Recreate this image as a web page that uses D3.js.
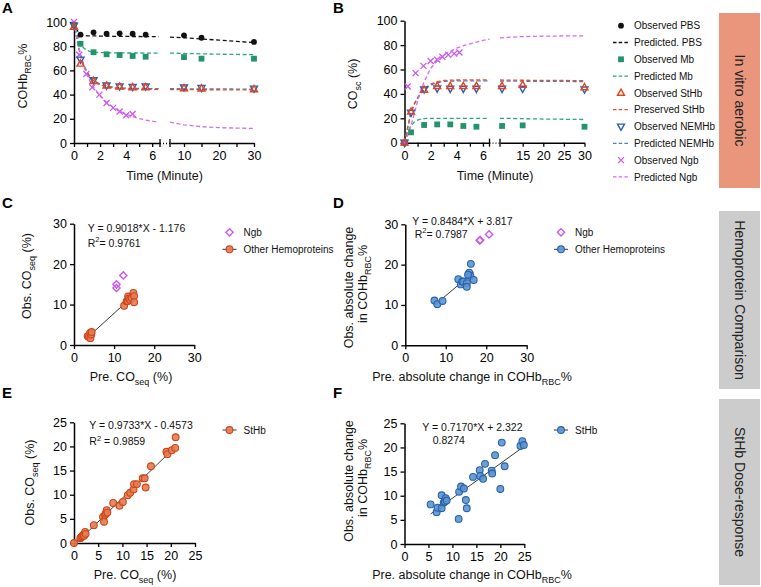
<!DOCTYPE html>
<html><head><meta charset="utf-8">
<script src="https://cdn.jsdelivr.net/npm/d3@7"></script>
<style>body{margin:0;background:#fff} svg{display:block}</style>
</head><body><svg id="c" width="761" height="587"></svg>
<script>
// ---------------- DATA ----------------
// Panel A: COHb_RBC% vs time
const timeObsA = [0,0.5,1.5,2.5,3.5,4.5,5.5,10,15,30];
const pbsObsA  = [98,89.5,91.5,90.3,90.6,90.3,89.5,89,87,83.5];
const mbObsA   = [97.5,82,75,73.3,72.7,71.9,71.3,71,69.7,69.7];
const sthbObsA = [96,65.5,51.2,47.4,46.5,46,46,45.2,45,44.4];
const nemObsA  = [97,69,52,47.6,46.8,46.5,46.8,46,45.6,45];
const timeNgbA = [0,0.4,0.95,1.4,1.95,2.5,3,3.5,4,4.5];
const ngbObsA  = [100,73,57,46,40,33,29,26,23,24];
const predT1 = [0,0.25,0.5,0.75,1,1.25,1.5,2,2.5,3,3.5,4,4.5,5,5.5,6,6.5];
const predT2A = [6,10,15,20,25,30];
const pbsPred1A  = [100,93,89.5,88.8,88.6,88.5,88.5,88.4,88.3,88.2,88.2,88.1,88,88,87.9,87.9,87.8];
const pbsPred2A  = [87.5,87,86,85,84,83];
const mbPred1A   = [100,89,82,78.5,76.5,75.5,75,74.7,74.6,74.5,74.5,74.4,74.4,74.4,74.3,74.3,74.3];
const mbPred2A   = [74.3,74,73.7,73.4,73.2,73];
const sthbPred1A = [100,84,72,64,58,54,51,48,46.5,45.5,45,44.7,44.5,44.4,44.3,44.3,44.2];
const sthbPred2A = [44.2,44.1,44,44,43.9,43.9];
const nemPred1A  = [100,84.5,72.8,64.8,58.7,54.7,51.7,48.7,47.2,46.2,45.7,45.4,45.2,45.1,45,45,44.9];
const nemPred2A  = [44.9,44.8,44.7,44.7,44.6,44.6];
const ngbPred1A  = [100,85,73,63.5,56.5,50.5,46,39,33.5,29.5,26.3,23.8,21.8,20.2,19,18,17.2];
const ngbPred2A  = [17.3,15,13.5,12.7,12.3,12.1];
const yTicksA = [0,20,40,60,80,100];
const xTicks1 = [0,1,2,3,4,5,6];
const xTicks2A = [10,15,20,25,30];
const xTicks2B = [15,20,25,30];

// Panel B: CO_sc (%) vs time
const timeObsB = [0,0.5,1.5,2.5,3.5,4.5,5.5,10,15,30];
const mbObsB   = [0,8.5,14.5,15,15,13.7,13.1,13.7,14.2,13.1];
const sthbObsB = [0,25.4,43.2,46.4,46.4,46.4,46.4,46.4,47.3,45.4];
const nemObsB  = [0,24.6,43.7,44.5,44.3,44.3,44.3,44.3,44.3,43.7];
const timeNgbB = [0,0.25,0.85,1.45,2,2.5,2.9,3.35,3.8,4.2];
const ngbObsB  = [0,46,57,63,67,68,70.5,72,73,74];
const predT2B = [9.5,15,20,25,30];
const mbPred1B   = [0,9,14,17,18.5,19.3,19.8,20,20,20,20,20,20,20,20,20,20];
const mbPred2B   = [20,19.7,19.4,19.2,19];
const sthbPred1B = [0,13,25,32,37,41,44,48,50,51,51.3,51.4,51.5,51.5,51.5,51.5,51.5];
const sthbPred2B = [51.4,51.2,51.1,51,50.8];
const nemPred1B  = [0,12.5,24.5,31.5,36.5,40.5,43.5,47.3,49.3,50.2,50.5,50.6,50.6,50.7,50.7,50.7,50.7];
const nemPred2B  = [50.5,50.4,50.3,50.2,50.1];
const ngbPred1B  = [0,6,14,24,34,43,50,61,67,72,75,77.5,79.5,81,82.5,83.8,84.8];
const ngbPred2B  = [86,87,87.3,87.5,87.5];

const legendAB = ['Observed PBS','Predicted. PBS','Observed Mb','Predicted Mb','Observed StHb',
                  'Preserved StHb','Observed NEMHb','Predicted NEMHb','Observed Ngb','Predicted Ngb'];

// Panel C
const ngbC_x = [10.6,10.6,12.3];
const ngbC_y = [14.1,15.0,17.2];
const otherC_x = [3.4,3.7,4.0,4.1,4.3,4.4,12.5,13.1,13.4,13.5,13.7,14.0,14.4,14.8,15.0,15.0];
const otherC_y = [2.2,2.0,3.0,1.7,2.6,3.2,9.7,10.8,10.9,12.0,11.5,11.2,11.6,12.9,12.1,10.6];
const fitC = [0.9018,-1.176];
// Panel D
const ngbD_x = [18.4,18.5,20.7];
const ngbD_y = [26.0,26.1,27.5];
const otherD_x = [7.2,7.9,9.2,13.1,13.7,14.1,14.3,15.2,15.2,15.8,16.1,16.2,16.9,15.5];
const otherD_y = [11.1,10.2,11.0,16.4,15.1,15.8,15.8,15.4,14.5,18.0,17.2,20.2,16.2,17.5];
const fitD = [0.8484,3.817];
// Panel E
const sthbE_x = [0,1.3,1.5,1.7,1.9,2.1,2.3,2.4,4.1,6.0,6.2,6.4,6.6,6.75,6.9,8.1,9.4,10.1,11.1,11.6,12.3,12.4,13.0,14.2,14.6,14.8,15.9,19.1,19.3,20.2,20.9,21.0];
const sthbE_y = [0,1.0,1.2,1.4,1.65,1.5,2.3,1.9,3.7,5.4,4.4,5.8,6.1,6.8,6.3,8.3,7.7,8.5,9.9,10.4,11.1,12.2,12.2,13.4,13.4,11.5,15.9,18.9,18.4,19.2,19.7,21.9];
const fitE = [0.9733,-0.4573];
// Panel F
const sthbF_x = [5.45,6.7,6.9,7.75,7.75,8.2,8.4,8.6,8.8,11.3,11.4,11.8,12.4,12.8,13.0,14.3,15.7,15.8,16.4,16.8,18.2,18.3,18.9,20.0,20.3,20.9,24.2,24.6,24.9];
const sthbF_y = [8.2,6.6,7.5,7.4,10.1,8.6,8.8,9.5,9.0,5.2,10.8,11.9,11.5,9.1,7.4,13.9,15.3,14.1,13.5,16.6,15.2,14.6,18.4,11.4,21.0,16.1,20.3,21.3,20.5];
const fitF = [0.7170,2.322];

const ticks30 = [0,10,20,30];
const ticks25 = [0,5,10,15,20,25];
const sideLabels = ['In vitro aerobic','Hemoprotein Comparison','StHb Dose-response'];
const panelLetters = ['A','B','C','D','E','F'];

// ---------------- STYLE ----------------
const FONT = "'Liberation Sans', Arial, Helvetica, sans-serif";
const COL = {pbs:'#111111', mb:'#23946A', mbLine:'#2CA67B', sthb:'#E2451E', sthbLine:'#E0532A',
  nem:'#2C5FB3', nemLine:'#4D7EC6', ngb:'#CC57EE', ngbLine:'#D46BF3',
  oFill:'#E67C52', oStroke:'#CB461C', bFill:'#5D93CF', bStroke:'#2762AC'};

const svg = d3.select('#c').attr('font-family', FONT);
svg.append('rect').attr('width',761).attr('height',587).attr('fill','#fff');

function rich(g, x, y, parts, size, anchor, rot, weight){
  const t = g.append('text').attr('transform', `translate(${x},${y}) rotate(${rot||0})`)
    .attr('text-anchor', anchor||'start').attr('font-size', size).attr('fill','#111')
    .attr('font-weight', weight||'normal');
  let cur = 0;
  parts.forEach(p => {
    const s = typeof p === 'string' ? p : p[0];
    const lvl = typeof p === 'string' ? 0 : p[1];
    const shift = lvl === -1 ? size*0.32 : lvl === 1 ? -size*0.42 : 0;
    t.append('tspan').attr('dy', shift - cur).attr('font-size', lvl ? size*0.72 : size).text(s);
    cur = shift;
  });
  return t;
}
function styleAxis(g){
  g.attr('font-family', FONT).attr('font-size', 12.5);
  g.select('.domain').attr('stroke','#000').attr('stroke-width',1.5);
  g.selectAll('.tick line').attr('stroke','#000').attr('stroke-width',1.3);
  g.selectAll('.tick text').attr('fill','#000');
}
function marker(g, type, x, y, color){
  if (type==='circle') g.append('circle').attr('cx',x).attr('cy',y).attr('r',2.9).attr('fill',color);
  else if (type==='square') g.append('rect').attr('x',x-2.9).attr('y',y-2.9).attr('width',5.8).attr('height',5.8).attr('fill',color);
  else if (type==='tri') g.append('path').attr('d',`M${x},${y-3.8}L${x+3.5},${y+2.4}L${x-3.5},${y+2.4}Z`).attr('fill','none').attr('stroke',color).attr('stroke-width',1.4);
  else if (type==='itri') g.append('path').attr('d',`M${x},${y+3.8}L${x+3.5},${y-2.4}L${x-3.5},${y-2.4}Z`).attr('fill','none').attr('stroke',color).attr('stroke-width',1.4);
  else if (type==='x') g.append('path').attr('d',`M${x-3},${y-3}L${x+3},${y+3}M${x-3},${y+3}L${x+3},${y-3}`).attr('stroke',color).attr('stroke-width',1.3);
  else if (type==='diamond') g.append('path').attr('d',`M${x},${y-3.6}L${x+3.6},${y}L${x},${y+3.6}L${x-3.6},${y}Z`).attr('fill','none').attr('stroke',color).attr('stroke-width',1.4);
}
function ball(g, x, y, fill, stroke){
  g.append('circle').attr('cx',x).attr('cy',y).attr('r',3.4).attr('fill',fill).attr('fill-opacity',0.9)
    .attr('stroke',stroke).attr('stroke-width',1.1);
}

// ---------------- TIME-COURSE PANELS (A, B) ----------------
function timePanel(cfg){
  const g = svg.append('g');
  const y = d3.scaleLinear().domain([0,100]).range(cfg.yr);
  const x1 = d3.scaleLinear().domain(cfg.d1).range(cfg.r1);
  const x2 = d3.scaleLinear().domain(cfg.d2).range(cfg.r2);
  const xOf = t => t <= cfg.d1[1] ? x1(t) : x2(t);
  const y0 = cfg.yr[0];
  g.append('g').attr('transform',`translate(${cfg.r1[0]},0)`)
    .call(d3.axisLeft(y).tickValues(yTicksA).tickSize(4).tickPadding(3).tickSizeOuter(0)).call(styleAxis);
  g.append('g').attr('transform',`translate(0,${y0})`)
    .call(d3.axisBottom(x1).tickValues(xTicks1).tickFormat(d => d%2 ? '' : d).tickSize(4).tickPadding(4).tickSizeOuter(0)).call(styleAxis);
  g.append('g').attr('transform',`translate(0,${y0})`)
    .call(d3.axisBottom(x2).tickValues(cfg.t2).tickFormat(cfg.f2).tickSize(4).tickPadding(4).tickSizeOuter(0)).call(styleAxis);
  // break marks
  const bx0 = cfg.r1[1], bx1 = cfg.r2[0];
  g.append('line').attr('x1',bx0).attr('x2',bx1).attr('y1',y0+0.5).attr('y2',y0+0.5)
    .attr('stroke','#000').attr('stroke-width',1.3).attr('stroke-dasharray','1,2');
  [bx0,bx1].forEach(bx => g.append('line').attr('x1',bx).attr('x2',bx).attr('y1',y0-4).attr('y2',y0+4)
    .attr('stroke','#000').attr('stroke-width',1.3));
  // predicted lines
  cfg.pred.forEach(p => {
    const l1 = d3.line().x((d,i)=>x1(predT1[i])).y(d=>y(d));
    const l2 = d3.line().x((d,i)=>x2(cfg.predT2[i])).y(d=>y(d));
    [[l1,p.v1],[l2,p.v2]].forEach(([ln,v]) => g.append('path').attr('d',ln(v)).attr('fill','none')
      .attr('stroke',p.c).attr('stroke-width',1.3).attr('stroke-dasharray','4,2.6'));
  });
  // observed points
  cfg.obs.forEach(o => o.v.forEach((v,i) => marker(g, o.type, xOf(o.t[i]), y(v), o.c)));
  // titles
  rich(g, cfg.xtx, cfg.xty, ['Time (Minute)'], 12.5, 'middle');
  rich(g, cfg.ytx, cfg.yty, cfg.ytitle, 12.5, 'middle', -90);
}

timePanel({yr:[143,22], d1:[0,6.6], r1:[74,160], d2:[6,30], r2:[170,254], t2:xTicks2A,
  f2: d => d%10 ? '' : d, predT2: predT2A,
  pred:[{v1:pbsPred1A,v2:pbsPred2A,c:COL.pbs},{v1:mbPred1A,v2:mbPred2A,c:COL.mbLine},
        {v1:nemPred1A,v2:nemPred2A,c:COL.nemLine},{v1:sthbPred1A,v2:sthbPred2A,c:COL.sthbLine},
        {v1:ngbPred1A,v2:ngbPred2A,c:COL.ngbLine}],
  obs:[{t:timeObsA,v:pbsObsA,type:'circle',c:COL.pbs},{t:timeObsA,v:mbObsA,type:'square',c:COL.mb},
       {t:timeNgbA,v:ngbObsA,type:'x',c:COL.ngb},
       {t:timeObsA,v:nemObsA,type:'itri',c:COL.nem},{t:timeObsA,v:sthbObsA,type:'tri',c:COL.sthb}],
  xtx:164.5, xty:180, ytx:26.5, yty:76, ytitle:['COHb',['RBC',-1],'%']});

timePanel({yr:[142.7,20.7], d1:[0,6.5], r1:[404.5,489.5], d2:[9.5,30], r2:[500,584.5], t2:xTicks2B,
  f2: d => d, predT2: predT2B,
  pred:[{v1:mbPred1B,v2:mbPred2B,c:COL.mbLine},{v1:nemPred1B,v2:nemPred2B,c:COL.nemLine},
        {v1:sthbPred1B,v2:sthbPred2B,c:COL.sthbLine},{v1:ngbPred1B,v2:ngbPred2B,c:COL.ngbLine}],
  obs:[{t:timeObsB,v:mbObsB,type:'square',c:COL.mb},{t:timeNgbB,v:ngbObsB,type:'x',c:COL.ngb},
       {t:timeObsB,v:nemObsB,type:'itri',c:COL.nem},{t:timeObsB,v:sthbObsB,type:'tri',c:COL.sthb}],
  xtx:495, xty:180, ytx:357, yty:84, ytitle:['CO',['sc',-1],' (%)']});

// legend A/B
const legTypes = ['circle','dash','square','dash','tri','dash','itri','dash','x','dash'];
const legCols = [COL.pbs,COL.pbs,COL.mb,COL.mbLine,COL.sthb,COL.sthbLine,COL.nem,COL.nemLine,COL.ngb,COL.ngbLine];
const gL = svg.append('g');
legendAB.forEach((lab,i) => {
  const yy = 25.7 + i*16.8;
  if (legTypes[i]==='dash') gL.append('line').attr('x1',613).attr('x2',629).attr('y1',yy).attr('y2',yy)
     .attr('stroke',legCols[i]).attr('stroke-width',1.3).attr('stroke-dasharray','3.5,2.2');
  else marker(gL, legTypes[i], 621, yy, legCols[i]);
  gL.append('text').attr('x',634).attr('y',yy+3.6).attr('font-size',10).attr('fill','#111').text(lab);
});

// ---------------- SCATTER PANELS (C-F) ----------------
function scatterPanel(cfg){
  const g = svg.append('g');
  const x = d3.scaleLinear().domain([0,cfg.max]).range(cfg.xr);
  const y = d3.scaleLinear().domain([0,cfg.max]).range(cfg.yr);
  g.append('g').attr('transform',`translate(${cfg.xr[0]},0)`)
    .call(d3.axisLeft(y).tickValues(cfg.ticks).tickSize(4).tickPadding(3).tickSizeOuter(0)).call(styleAxis);
  g.append('g').attr('transform',`translate(0,${cfg.yr[0]})`)
    .call(d3.axisBottom(x).tickValues(cfg.ticks).tickSize(4).tickPadding(4).tickSizeOuter(0)).call(styleAxis);
  const xmn = d3.min(cfg.px), xmx = d3.max(cfg.px);
  g.append('line').attr('x1',x(xmn)).attr('y1',y(cfg.fit[0]*xmn+cfg.fit[1]))
    .attr('x2',x(xmx)).attr('y2',y(cfg.fit[0]*xmx+cfg.fit[1])).attr('stroke','#222').attr('stroke-width',0.9);
  cfg.px.forEach((v,i) => ball(g, x(v), y(cfg.py[i]), cfg.fill, cfg.stroke));
  if (cfg.nx) cfg.nx.forEach((v,i) => marker(g,'diamond', x(v), y(cfg.ny[i]), COL.ngb));
  // equation
  rich(g, cfg.eq[0], cfg.eq[1], [cfg.eqText], 10.5);
  rich(g, cfg.r2[0], cfg.r2[1], cfg.r2Text, 10.5);
  // legend
  let ly = cfg.leg[1];
  if (cfg.nx){
    marker(g,'diamond', cfg.leg[0], ly, COL.ngb);
    g.append('text').attr('x',cfg.leg[0]+14).attr('y',ly+3.6).attr('font-size',10).attr('fill','#111').text('Ngb');
    ly += 17;
  }
  g.append('line').attr('x1',cfg.leg[0]-7).attr('x2',cfg.leg[0]+7).attr('y1',ly).attr('y2',ly).attr('stroke','#333').attr('stroke-width',1);
  ball(g, cfg.leg[0], ly, cfg.fill, cfg.stroke);
  g.append('text').attr('x',cfg.leg[0]+14).attr('y',ly+3.6).attr('font-size',10).attr('fill','#111').text(cfg.legLabel);
  // titles
  rich(g, cfg.xt[0], cfg.xt[1], cfg.xtitle, 12.5, 'middle');
  cfg.yt.forEach(t => rich(g, t[0], t[1], t[2], 12.5, 'middle', -90));
}

const coseqX = ['Pre. CO',['seq',-1],' (%)'];
const coseqY = ['Obs. CO',['seq',-1],' (%)'];
const absX = ['Pre. absolute change in COHb',['RBC',-1],'%'];
const absY1 = ['Obs. absolute change'];
const absY2 = ['in COHb',['RBC',-1],'%'];

scatterPanel({max:30, ticks:ticks30, xr:[74,194.3], yr:[345,223.7], px:otherC_x, py:otherC_y, nx:ngbC_x, ny:ngbC_y,
  fit:fitC, fill:COL.oFill, stroke:COL.oStroke, eq:[87.7,231.7], eqText:'Y = 0.9018*X - 1.176',
  r2:[87.7,246.7], r2Text:['R',['2',1],'= 0.9761'], leg:[229.5,232.3], legLabel:'Other Hemoproteins',
  xt:[131,381], xtitle:coseqX, yt:[[30.5,276,coseqY]]});
scatterPanel({max:30, ticks:ticks30, xr:[405.3,526.7], yr:[345.3,224.3], px:otherD_x, py:otherD_y, nx:ngbD_x, ny:ngbD_y,
  fit:fitD, fill:COL.bFill, stroke:COL.bStroke, eq:[412.3,225], eqText:'Y = 0.8484*X + 3.817',
  r2:[414.7,237.5], r2Text:['R',['2',1],'= 0.7987'], leg:[561,232.3], legLabel:'Other Hemoproteins',
  xt:[472,380.5], xtitle:absX, yt:[[353,287.5,absY1],[367,284,absY2]]});
scatterPanel({max:25, ticks:ticks25, xr:[74,195], yr:[543,422.3], px:sthbE_x, py:sthbE_y,
  fit:fitE, fill:COL.oFill, stroke:COL.oStroke, eq:[89.3,429.3], eqText:'Y = 0.9733*X - 0.4573',
  r2:[89.3,445], r2Text:['R',['2',1],' =  0.9859'], leg:[229.5,430], legLabel:'StHb',
  xt:[135,578.5], xtitle:coseqX, yt:[[33.5,482.5,coseqY]]});
scatterPanel({max:25, ticks:ticks25, xr:[404.5,524.3], yr:[544,423.3], px:sthbF_x, py:sthbF_y,
  fit:fitF, fill:COL.bFill, stroke:COL.bStroke, eq:[422.3,430.7], eqText:'Y = 0.7170*X + 2.322',
  r2:[432.7,443.5], r2Text:['0.8274'], leg:[561,430], legLabel:'StHb',
  xt:[472,578.5], xtitle:absX, yt:[[353,481,absY1],[367,478,absY2]]});

// ---------------- PANEL LETTERS ----------------
const letterPos = [[2,12.5],[333,12.5],[2,208],[333,208],[2,398],[333,398]];
panelLetters.forEach((L,i) => svg.append('text').attr('x',letterPos[i][0]).attr('y',letterPos[i][1])
  .attr('font-size',15).attr('font-weight','bold').attr('fill','#000').text(L));

// ---------------- SIDE LABEL BOXES ----------------
const boxY = [[13,188],[211,389],[399,585]];
const boxCol = ['#E9967C','#CCCCCC','#CCCCCC'];
sideLabels.forEach((lab,i) => {
  const [a,b] = boxY[i];
  svg.append('rect').attr('x',719).attr('y',a).attr('width',41).attr('height',b-a).attr('fill',boxCol[i]);
  svg.append('text').attr('transform',`translate(${739.5},${(a+b)/2}) rotate(90)`).attr('text-anchor','middle')
    .attr('dy','0.35em').attr('font-size',14).attr('fill','#222').text(lab);
});
</script></body></html>
